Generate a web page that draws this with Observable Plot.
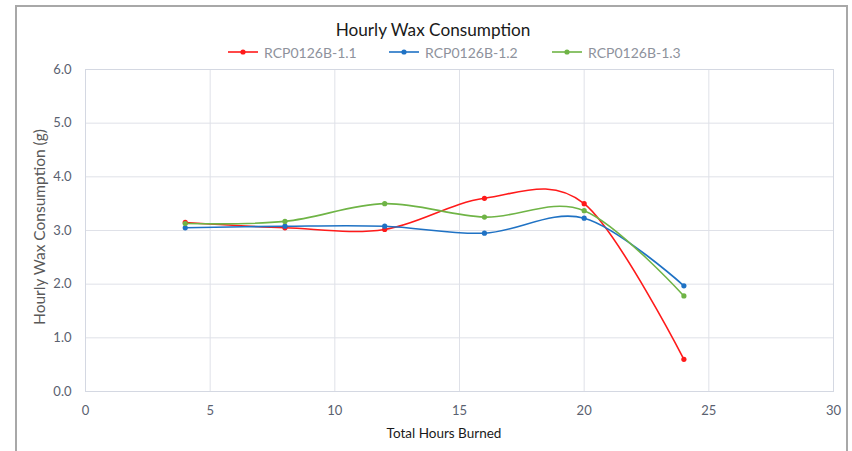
<!DOCTYPE html>
<html>
<head>
<meta charset="utf-8">
<script src="https://cdn.jsdelivr.net/npm/d3@7"></script>
<script src="https://cdn.jsdelivr.net/npm/@observablehq/plot@0.6"></script>
<style>
  body { margin: 0; background: #fff; }
  #wrap { position: relative; width: 852px; height: 451px; overflow: hidden; font-family: Lato, "Open Sans", sans-serif; }
  #border { position: absolute; left: 15px; top: 5px; width: 833px; height: 460px; border: 2px solid #a8a8a8; box-sizing: border-box; }
  #chart { position: absolute; left: 0; top: 0; }
  .title { position: absolute; left: 0; width: 866px; top: 19px; text-align: center; font-size: 17.2px; color: #1a1a1a; }
  .leg { position: absolute; top: 43px; height: 18px; display: flex; align-items: center; font-size: 14px; color: #8e929c; white-space: nowrap; }
  .leg svg { margin-right: 6px; }
  .xlab { position: absolute; left: 0; width: 888px; top: 425px; text-align: center; font-size: 13.5px; color: #1a1a1a; }
  .ylab { position: absolute; left: 39px; top: 227px; transform: translate(-50%, -50%) rotate(-90deg); font-size: 15.5px; color: #595959; white-space: nowrap; }
</style>
</head>
<body>
<div id="wrap">
  <div id="border"></div>
  <div id="chart"></div>
  <div class="title">Hourly Wax Consumption</div>
  <div id="legend"></div>
  <div class="xlab">Total Hours Burned</div>
  <div class="ylab">Hourly Wax Consumption (g)</div>
</div>
<script>
const hours = [4, 8, 12, 16, 20, 24];
const seriesNames = ["RCP0126B-1.1", "RCP0126B-1.2", "RCP0126B-1.3"];
const series1 = [3.15, 3.05, 3.02, 3.60, 3.50, 0.60];
const series2 = [3.05, 3.08, 3.08, 2.95, 3.23, 1.97];
const series3 = [3.13, 3.17, 3.50, 3.25, 3.37, 1.78];
const colors = ["#ff1a1a", "#1f72c4", "#6fb446"];
const xTicks = [0, 5, 10, 15, 20, 25, 30];
const yTicks = [0, 1, 2, 3, 4, 5, 6];

const allSeries = [series1, series2, series3];
const data = [];
allSeries.forEach((vals, i) => vals.forEach((v, j) => data.push({name: seriesNames[i], x: hours[j], y: v})));

const plot = Plot.plot({
  width: 852,
  height: 451,
  marginLeft: 85,
  marginRight: 19,
  marginTop: 69,
  marginBottom: 60,
  style: {fontFamily: "Lato, 'Open Sans', sans-serif", background: "transparent"},
  x: {domain: [0, 30], ticks: xTicks},
  y: {domain: [0, 6], ticks: yTicks},
  color: {domain: seriesNames, range: colors},
  marks: [
    Plot.gridX(xTicks, {stroke: "#dfe1e8", strokeOpacity: 1}),
    Plot.gridY(yTicks, {stroke: "#dfe1e8", strokeOpacity: 1}),
    Plot.frame({stroke: "#d4d8e2"}),
    Plot.axisX(xTicks, {tickSize: 0, tickPadding: 14, fontSize: 13, fill: "#5a6170", label: null}),
    Plot.axisY(yTicks, {tickSize: 0, tickPadding: 14, fontSize: 13, fill: "#5a6170", tickFormat: d3.format(".1f"), label: null}),
    Plot.line(data, {x: "x", y: "y", z: "name", stroke: "name", strokeWidth: 1.6, curve: "cardinal"}),
    Plot.dot(data, {x: "x", y: "y", fill: "name", r: 2.6})
  ]
});
document.getElementById("chart").appendChild(plot);

const legend = document.getElementById("legend");
const legLeft = [228, 389, 552];
seriesNames.forEach((n, i) => {
  const d = document.createElement("div");
  d.className = "leg";
  d.style.left = legLeft[i] + "px";
  d.innerHTML = `<svg width="30" height="10"><line x1="0" x2="30" y1="5" y2="5" stroke="${colors[i]}" stroke-width="1.6"/><circle cx="15" cy="5" r="2.6" fill="${colors[i]}"/></svg><span>${n}</span>`;
  legend.appendChild(d);
});
</script>
</body>
</html>
